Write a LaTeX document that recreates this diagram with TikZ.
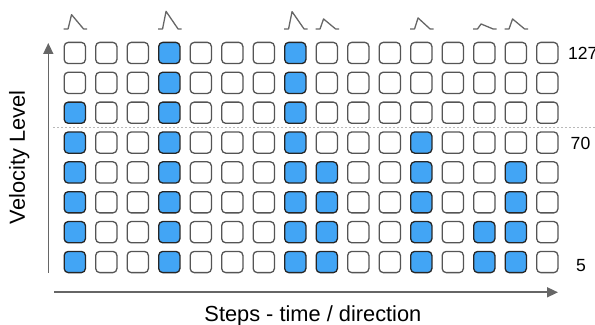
\documentclass[tikz,border=0pt]{standalone}
\usepackage{fontspec}
\setmainfont{Liberation Sans}
\usetikzlibrary{positioning,calc,arrows.meta}
\usepackage{xcolor}
\definecolor{padblue}{HTML}{42A5F5}
\definecolor{padedge}{HTML}{555555}
\definecolor{padedgeon}{HTML}{262626}
\definecolor{axisgray}{HTML}{666666}

\tikzset{
  cell/.style={rectangle,draw=padedge,line width=0.65pt,minimum size=10.6pt,
    inner sep=0pt,rounded corners=2pt,fill=white},
  cellon/.style={fill=padblue,draw=padedgeon},
  celloff/.style={},
  axis/.style={draw=axisgray,line width=0.8pt,-{Triangle[length=5.5pt,width=5pt]}},
  pulse/.style={draw=axisgray,line width=0.65pt,line join=round},
  split/.style={draw=gray!55,line width=0.5pt,dash pattern=on 1.2pt off 0.8pt},
  lbl/.style={font=\fontsize{10.9}{13}\selectfont,inner sep=0pt},
  num/.style={font=\fontsize{8.8}{10}\selectfont,inner sep=0pt,anchor=base}
}

\begin{document}
\begin{tikzpicture}[x=0.5pt,y=-0.5pt]
\useasboundingbox (0,0) rectangle (595,325);
% lowest lit row per step (9 = none)
\def\tops{{3,9,9,1,9,9,9,1,5,9,9,4,9,7,5,9}}
\foreach \c in {1,...,16}{
  \foreach \r in {1,...,8}{
    \pgfmathtruncatemacro\on{\r>=\tops[\c-1]}
    \ifnum\on=1 \def\sty{cellon}\else\def\sty{celloff}\fi
    \node[cell,\sty] (c-\c-\r) at ({74.8+31.5*(\c-1)},{53+29.86*(\r-1)}) {};
  }
}
% velocity pulses above the steps
\foreach \c/\h in {1/14.3,4/17.6,8/17.3,9/10,12/11,14/5,15/10}
  \draw[pulse] ([yshift=6.4pt]c-\c-1.north west) -- ++(4.5,0) -- ++(3.5,-\h)
    -- ++(12,\h) -- ++(3.5,0);
% split line
\coordinate (splitl) at (53,127.5);
\coordinate (splitr) at (595,127.5);
\draw[split] (splitl) -- (splitr);
% axes
\coordinate (yorig) at (48.3,273);
\coordinate (ytop) at (48.3,43);
\coordinate (xorig) at (54,292.3);
\coordinate (xend) at (558,292.3);
\draw[axis] (yorig) -- (ytop);
\draw[axis] (xorig) -- (xend);
% labels
\node[lbl,anchor=base,rotate=90] (vel) at (25,157.5) {Velocity Level};
\node[lbl,anchor=base] (steps) at (312.9,321.5) {Steps - time / direction};
\node[num] (v127) at (582.7,59.3) {127};
\node[num] (v70) at (580.5,149.3) {70};
\node[num] (v5) at (581,271.7) {5};
\end{tikzpicture}
\end{document}
